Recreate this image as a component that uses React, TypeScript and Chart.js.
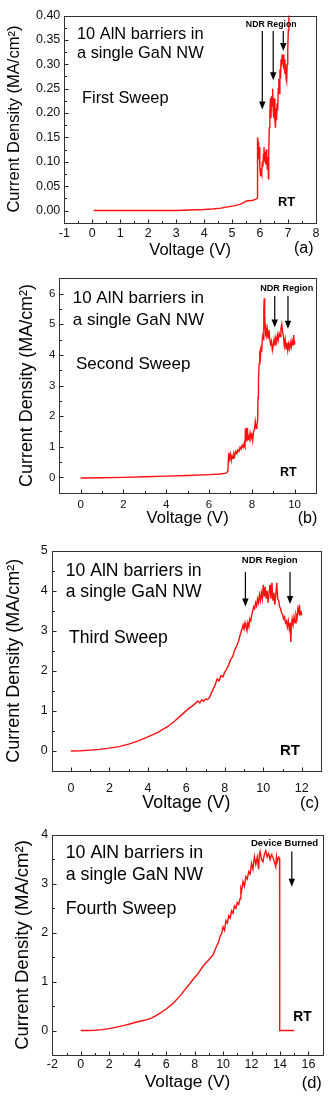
import React, { useEffect, useRef } from "react";
import { Chart, registerables } from "chart.js";

Chart.register(...registerables);

const FONT = "'Liberation Sans', Arial, Helvetica, sans-serif";
Chart.defaults.font.family = FONT;

// ---------- DATA ----------
// (a) First sweep
const firstVoltage = [
  0.05, 0.5, 1, 1.5, 2, 2.5, 3, 3.5, 4, 4.3,
  4.6, 4.9, 5.1, 5.3, 5.42, 5.48, 5.6, 5.75, 5.88, 5.9,
  5.91, 5.93, 5.95, 5.97, 5.99, 6.02, 6.04, 6.06, 6.08, 6.1,
  6.12, 6.14, 6.16, 6.18, 6.2, 6.22, 6.24, 6.26, 6.28, 6.3,
  6.31, 6.33, 6.35, 6.37, 6.39, 6.41, 6.43, 6.45, 6.47, 6.49,
  6.51, 6.53, 6.55, 6.57, 6.59, 6.61, 6.63, 6.65, 6.67, 6.69,
  6.71, 6.73, 6.75, 6.77, 6.79, 6.81, 6.83, 6.85, 6.87, 6.89,
  6.91, 6.93, 6.95, 6.97, 6.99, 7.01, 7.03,
];
const firstCurrent = [
  0, 0, 0, 0, 0, 0, 0, 0.001, 0.002, 0.003,
  0.005, 0.008, 0.01, 0.013, 0.016, 0.019, 0.02, 0.021, 0.024, 0.026,
  0.15, 0.14, 0.105, 0.13, 0.09, 0.07, 0.08, 0.075, 0.1, 0.09,
  0.115, 0.13, 0.1, 0.12, 0.095, 0.125, 0.1, 0.085, 0.11, 0.065,
  0.12, 0.17, 0.2, 0.23, 0.19, 0.235, 0.215, 0.25, 0.205, 0.19,
  0.23, 0.185, 0.17, 0.21, 0.185, 0.22, 0.205, 0.25, 0.27, 0.24,
  0.29, 0.27, 0.31, 0.295, 0.32, 0.3, 0.32, 0.29, 0.31, 0.28,
  0.3, 0.27, 0.265, 0.3, 0.33, 0.37, 0.42,
];
const firstXTicks = [-1, 0, 1, 2, 3, 4, 5, 6, 7, 8];
const firstYTicks = [0, 0.05, 0.1, 0.15, 0.2, 0.25, 0.3, 0.35, 0.4];

// (b) Second sweep
const secondVoltage = [
  0, 1, 2, 3, 4, 5, 6, 6.5, 6.8, 6.88,
  6.92, 6.96, 7.0, 7.04, 7.08, 7.12, 7.16, 7.2, 7.25, 7.3,
  7.35, 7.4, 7.45, 7.5, 7.55, 7.6, 7.64, 7.68, 7.7, 7.72,
  7.75, 7.78, 7.8, 7.84, 7.88, 7.92, 7.96, 8.0, 8.04, 8.08,
  8.12, 8.16, 8.2, 8.24, 8.27, 8.29, 8.31, 8.34, 8.37, 8.4,
  8.43, 8.46, 8.5, 8.53, 8.56, 8.58, 8.6, 8.62, 8.64, 8.66,
  8.68, 8.72, 8.76, 8.8, 8.84, 8.88, 8.92, 8.96, 9.0, 9.04,
  9.08, 9.12, 9.16, 9.2, 9.24, 9.28, 9.32, 9.36, 9.4, 9.44,
  9.48, 9.52, 9.56, 9.6, 9.64, 9.68, 9.72, 9.76, 9.8, 9.84,
  9.88, 9.92, 9.96, 9.98, 10.0,
];
const secondCurrent = [
  -0.02, -0.01, 0, 0.02, 0.04, 0.06, 0.09, 0.11, 0.14, 0.2,
  0.8, 0.6, 0.75, 0.55, 0.7, 0.62, 0.78, 0.7, 0.85, 0.78,
  0.9, 0.85, 0.98, 0.92, 1.05, 0.98, 1.1, 1.0, 1.6, 1.15,
  1.3, 1.62, 1.2, 1.35, 1.25, 1.45, 1.28, 1.38, 1.2, 1.5,
  1.55, 1.82, 1.6, 1.72, 1.85, 2.6, 3.2, 3.7, 4.0, 3.9,
  4.3, 4.1, 4.6, 4.5, 5.5, 5.85, 5.3, 5.0, 4.6, 4.9,
  4.65, 4.85, 4.55, 4.82, 4.5, 4.35, 4.45, 4.15, 4.3, 4.5,
  4.3, 4.55, 4.4, 4.65, 4.5, 4.7, 4.6, 4.85, 5.0, 4.75,
  4.6, 4.3, 4.5, 4.2, 4.4, 4.15, 4.35, 4.2, 4.4, 4.25,
  4.45, 4.3, 4.65, 4.35, 4.45,
];
const secondXTicks = [0, 2, 4, 6, 8, 10];
const secondYTicks = [0, 1, 2, 3, 4, 5, 6];

// (c) Third sweep
const thirdVoltage = [
  0, 0.5, 1, 1.5, 2, 2.5, 3, 3.5, 4, 4.5,
  5, 5.4, 5.8, 6.1, 6.3, 6.5, 6.6, 6.7, 6.8, 6.9,
  7.0, 7.1, 7.2, 7.3, 7.4, 7.5, 7.6, 7.7, 7.8, 7.9,
  8.0, 8.1, 8.2, 8.3, 8.4, 8.5, 8.6, 8.7, 8.8, 8.9,
  8.95, 9.0, 9.05, 9.1, 9.15, 9.2, 9.25, 9.3, 9.35, 9.4,
  9.45, 9.5, 9.55, 9.6, 9.65, 9.7, 9.75, 9.8, 9.85, 9.9,
  9.95, 10.0, 10.05, 10.1, 10.15, 10.2, 10.25, 10.3, 10.35, 10.4,
  10.45, 10.5, 10.55, 10.6, 10.65, 10.7, 10.75, 10.8, 10.85, 10.9,
  10.95, 11.0, 11.05, 11.1, 11.15, 11.2, 11.25, 11.3, 11.35, 11.4,
  11.43, 11.46, 11.5, 11.55, 11.6, 11.65, 11.7, 11.75, 11.8, 11.85,
  11.88, 11.92, 11.96, 12.0,
];
const thirdCurrent = [
  0, 0.005, 0.02, 0.04, 0.07, 0.11, 0.17, 0.25, 0.35, 0.46,
  0.6, 0.75, 0.92, 1.05, 1.12, 1.2, 1.25, 1.2, 1.28, 1.24,
  1.3, 1.28, 1.33, 1.45, 1.55, 1.65, 1.8, 1.75, 1.88, 1.85,
  1.97, 2.05, 2.15, 2.28, 2.35, 2.5, 2.6, 2.72, 2.9, 3.05,
  3.15, 3.05, 3.2, 3.1, 3.0, 3.2, 3.1, 3.3, 3.25, 3.4,
  3.5, 3.6, 3.55, 3.7, 3.62, 3.8, 3.7, 3.9, 3.75, 3.95,
  3.8, 4.15, 3.85, 4.1, 3.8, 4.0, 3.7, 3.95, 4.15, 3.8,
  4.2, 3.75, 3.95, 3.65, 3.9, 4.2, 3.8, 3.75, 3.6, 3.55,
  3.45, 3.4, 3.3, 3.35, 3.2, 3.25, 3.1, 3.25, 3.05, 3.2,
  2.72, 3.1, 3.3, 3.15, 3.35, 3.2, 3.4, 3.3, 3.55, 3.45,
  3.65, 3.4, 3.5, 3.4,
];
const thirdXTicks = [0, 2, 4, 6, 8, 10, 12];
const thirdYTicks = [0, 1, 2, 3, 4, 5];

// (d) Fourth sweep
const fourthVoltage = [
  0, 0.5, 1, 1.5, 2, 2.5, 3, 3.5, 4, 4.5,
  5, 5.5, 6, 6.5, 7, 7.5, 7.9, 8.2, 8.6, 9.0,
  9.3, 9.5, 9.6, 9.7, 9.8, 9.9, 10.0, 10.1, 10.2, 10.3,
  10.4, 10.5, 10.6, 10.7, 10.8, 10.9, 11.0, 11.1, 11.2, 11.25,
  11.3, 11.4, 11.5, 11.6, 11.7, 11.8, 11.9, 12.0, 12.1, 12.2,
  12.3, 12.4, 12.5, 12.55, 12.6, 12.7, 12.8, 12.9, 13.0, 13.1,
  13.2, 13.3, 13.4, 13.5, 13.6, 13.7, 13.75, 13.8, 13.9, 13.97,
  13.98, 15.0,
];
const fourthCurrent = [
  0, 0, 0.005, 0.02, 0.04, 0.07, 0.1, 0.14, 0.18, 0.21,
  0.26, 0.34, 0.44, 0.56, 0.72, 0.9, 1.05, 1.15, 1.32, 1.45,
  1.55, 1.7, 1.76, 1.82, 1.94, 1.98, 2.12, 2.05, 2.25, 2.2,
  2.35, 2.3, 2.45, 2.4, 2.55, 2.5, 2.62, 2.58, 2.7, 2.9,
  2.85, 3.05, 2.95, 3.15, 3.1, 3.25, 3.2, 3.42, 3.3, 3.56,
  3.4, 3.55, 3.3, 3.6, 3.66, 3.5, 3.45, 3.6, 3.68, 3.55,
  3.62, 3.5, 3.6, 3.55, 3.45, 3.35, 3.55, 3.45, 3.55, 3.52,
  0, 0,
];
const fourthXTicks = [-2, 0, 2, 4, 6, 8, 10, 12, 14, 16];
const fourthYTicks = [0, 1, 2, 3, 4];

// ---------- PANEL LAYOUT ----------
type Txt = { t: string; x: number; y: number; size: number; bold?: boolean; align?: CanvasTextAlign };
type Arrow = { v: number; from: number; to: number };
type Panel = {
  top: number; bottom: number;
  plotLeft: number; plotRight: number; plotTop: number; plotBottom: number;
  xMin: number; xMax: number; yMin: number; yMax: number;
  xTicks: number[]; yTicks: number[]; xMinor: number; yMinor: number;
  yDecimals: number;
  volts: number[]; current: number[];
  tickSize: number; xTickPad: number;
  yTitleX: number; yTitleSize: number; xTitleY: number; xTitleSize: number;
  texts: Txt[]; arrows: Arrow[];
};

const panels: Panel[] = [
  {
    top: 0, bottom: 262,
    plotLeft: 64.3, plotRight: 316, plotTop: 15.5, plotBottom: 222.7,
    xMin: -1, xMax: 8, yMin: -0.025, yMax: 0.4,
    xTicks: firstXTicks, yTicks: firstYTicks, xMinor: 0.5, yMinor: 0.025, yDecimals: 2,
    volts: firstVoltage, current: firstCurrent,
    tickSize: 12.5, xTickPad: 3,
    yTitleX: 14, yTitleSize: 16.5, xTitleY: 250, xTitleSize: 16.5,
    texts: [
      { t: "10 AlN barriers in", x: 77, y: 34, size: 16.4 },
      { t: "a single GaN NW", x: 77, y: 53.3, size: 16.4 },
      { t: "First Sweep", x: 82, y: 98, size: 16.4 },
      { t: "NDR Region", x: 271.2, y: 25, size: 8.7, bold: true, align: "center" },
      { t: "RT", x: 278, y: 202.3, size: 12.8, bold: true },
      { t: "(a)", x: 294, y: 248.3, size: 16 },
    ],
    arrows: [
      { v: 6.08, from: 0.368, to: 0.207 },
      { v: 6.47, from: 0.368, to: 0.267 },
      { v: 6.83, from: 0.368, to: 0.327 },
    ],
  },
  {
    top: 262, bottom: 532,
    plotLeft: 59.3, plotRight: 316, plotTop: 278.3, plotBottom: 492.7,
    xMin: -1, xMax: 11, yMin: -0.5, yMax: 6.5,
    xTicks: secondXTicks, yTicks: secondYTicks, xMinor: 1, yMinor: 0.5, yDecimals: 0,
    volts: secondVoltage, current: secondCurrent,
    tickSize: 11.5, xTickPad: 5,
    yTitleX: 27, yTitleSize: 17.9, xTitleY: 518.3, xTitleSize: 16.6,
    texts: [
      { t: "10 AlN barriers in", x: 72.7, y: 298.3, size: 17 },
      { t: "a single GaN NW", x: 72.7, y: 320, size: 17 },
      { t: "Second Sweep", x: 76, y: 364.3, size: 17 },
      { t: "NDR Region", x: 286.7, y: 288.3, size: 9.1, bold: true, align: "center" },
      { t: "RT", x: 280, y: 472.7, size: 12.5, bold: true },
      { t: "(b)", x: 297.7, y: 518.3, size: 16 },
    ],
    arrows: [
      { v: 9.07, from: 5.92, to: 4.89 },
      { v: 9.69, from: 5.92, to: 4.85 },
    ],
  },
  {
    top: 532, bottom: 816,
    plotLeft: 51.7, plotRight: 321, plotTop: 550.7, plotBottom: 771,
    xMin: -1, xMax: 13, yMin: -0.5, yMax: 5,
    xTicks: thirdXTicks, yTicks: thirdYTicks, xMinor: 1, yMinor: 0.5, yDecimals: 0,
    volts: thirdVoltage, current: thirdCurrent,
    tickSize: 12.5, xTickPad: 10.5,
    yTitleX: 14, yTitleSize: 18, xTitleY: 803.3, xTitleSize: 17.8,
    texts: [
      { t: "10 AlN barriers in", x: 65.7, y: 570.7, size: 17.6 },
      { t: "a single GaN NW", x: 65.7, y: 592.3, size: 17.6 },
      { t: "Third Sweep", x: 69, y: 638.3, size: 17.6 },
      { t: "NDR Region", x: 269.7, y: 560.7, size: 9.6, bold: true, align: "center" },
      { t: "RT", x: 280, y: 750.7, size: 15, bold: true },
      { t: "(c)", x: 300, y: 803.3, size: 16.5 },
    ],
    arrows: [
      { v: 9.07, from: 4.47, to: 3.61 },
      { v: 11.39, from: 4.47, to: 3.67 },
    ],
  },
  {
    top: 816, bottom: 1100,
    plotLeft: 52.3, plotRight: 322.7, plotTop: 835, plotBottom: 1055,
    xMin: -2, xMax: 17, yMin: -0.5, yMax: 4,
    xTicks: fourthXTicks, yTicks: fourthYTicks, xMinor: 1, yMinor: 0.5, yDecimals: 0,
    volts: fourthVoltage, current: fourthCurrent,
    tickSize: 12.5, xTickPad: 2,
    yTitleX: 23.3, yTitleSize: 18.5, xTitleY: 1082, xTitleSize: 17.3,
    texts: [
      { t: "10 AlN barriers in", x: 65.7, y: 853.3, size: 17.8 },
      { t: "a single GaN NW", x: 65.7, y: 875, size: 17.8 },
      { t: "Fourth Sweep", x: 65.7, y: 909.3, size: 17.8 },
      { t: "Device Burned", x: 284.5, y: 843.3, size: 9.6, bold: true, align: "center" },
      { t: "RT", x: 293.3, y: 1016.7, size: 13.8, bold: true },
      { t: "(d)", x: 301.7, y: 1083.3, size: 16.5 },
    ],
    arrows: [{ v: 14.83, from: 3.66, to: 2.94 }],
  },
];

function minorValues(min: number, max: number, step: number, majors: number[]) {
  const out: number[] = [];
  const n = Math.round((max - min) / step);
  for (let i = 0; i <= n; i++) {
    const v = min + i * step;
    if (!majors.some((m) => Math.abs(m - v) < step / 100)) out.push(v);
  }
  return out;
}

function PanelChart({ p }: { p: Panel }) {
  const ref = useRef<HTMLCanvasElement>(null);
  const h = p.bottom - p.top;

  useEffect(() => {
    if (!ref.current) return;
    const overlay = {
      id: "overlay",
      afterDraw(chart: any) {
        const { ctx, chartArea: ca } = chart;
        const xs = chart.scales.x;
        const ys = chart.scales.y;
        ctx.save();
        ctx.strokeStyle = "#222";
        ctx.lineWidth = 1;
        const bottom = Math.round(ca.bottom) + 0.5;
        const left = Math.round(ca.left) + 0.5;
        const drawX = (vals: number[], len: number) => {
          vals.forEach((v) => {
            const px = Math.round(xs.getPixelForValue(v)) + 0.5;
            ctx.beginPath();
            ctx.moveTo(px, bottom);
            ctx.lineTo(px, bottom - len);
            ctx.stroke();
          });
        };
        const drawY = (vals: number[], len: number) => {
          vals.forEach((v) => {
            const py = Math.round(ys.getPixelForValue(v)) + 0.5;
            ctx.beginPath();
            ctx.moveTo(left, py);
            ctx.lineTo(left + len, py);
            ctx.stroke();
          });
        };
        drawX(p.xTicks, 4);
        drawX(minorValues(p.xMin, p.xMax, p.xMinor, p.xTicks), 2.5);
        drawY(p.yTicks, 4);
        drawY(minorValues(p.yMin, p.yMax, p.yMinor, p.yTicks), 2.5);
        ctx.strokeStyle = "#333";
        ctx.strokeRect(left, Math.round(ca.top) + 0.5, Math.round(ca.right) - Math.round(ca.left), Math.round(ca.bottom) - Math.round(ca.top));
        ctx.strokeStyle = "#000";
        ctx.fillStyle = "#000";
        ctx.lineWidth = 1.2;
        p.arrows.forEach((a) => {
          const px = xs.getPixelForValue(a.v);
          const y1 = ys.getPixelForValue(a.from);
          const y2 = ys.getPixelForValue(a.to);
          ctx.beginPath();
          ctx.moveTo(px, y1);
          ctx.lineTo(px, y2 - 6);
          ctx.stroke();
          ctx.beginPath();
          ctx.moveTo(px - 3.2, y2 - 8);
          ctx.lineTo(px + 3.2, y2 - 8);
          ctx.lineTo(px, y2);
          ctx.closePath();
          ctx.fill();
        });
        ctx.textBaseline = "middle";
        p.texts.forEach((t) => {
          ctx.font = `${t.bold ? "bold " : ""}${t.size}px ${FONT}`;
          ctx.textAlign = t.align || "left";
          ctx.fillText(t.t, t.x, t.y - p.top);
        });
        ctx.restore();
      },
    };

    const chart = new Chart(ref.current, {
      type: "line",
      data: {
        datasets: [
          {
            data: p.volts.map((v, i) => ({ x: v, y: p.current[i] })),
            borderColor: "#ff1010",
            borderWidth: 1.4,
            pointRadius: 0,
            tension: 0,
            fill: false,
          },
        ],
      },
      options: {
        animation: false,
        responsive: false,
        maintainAspectRatio: false,
        devicePixelRatio: 1,
        events: [],
        layout: {
          padding: { left: 0, right: 336 - p.plotRight, top: p.plotTop - p.top, bottom: 0 },
        },
        plugins: { legend: { display: false }, tooltip: { enabled: false } },
        scales: {
          x: {
            type: "linear",
            min: p.xMin,
            max: p.xMax,
            afterBuildTicks: (s: any) => {
              s.ticks = p.xTicks.map((v) => ({ value: v }));
            },
            afterFit: (s: any) => {
              s.height = p.bottom - p.plotBottom;
            },
            grid: { display: false, drawTicks: false },
            border: { display: false },
            ticks: {
              autoSkip: false,
              maxRotation: 0,
              minRotation: 0,
              padding: p.xTickPad,
              color: "#111",
              font: { size: p.tickSize, family: FONT },
              callback: (v: any) => String(v),
            },
            title: {
              display: true,
              text: "Voltage (V)",
              color: "#000",
              font: { size: p.xTitleSize, family: FONT, lineHeight: 1 },
              padding: { top: 0, bottom: p.bottom - p.xTitleY - p.xTitleSize / 2 },
            },
          },
          y: {
            type: "linear",
            min: p.yMin,
            max: p.yMax,
            afterBuildTicks: (s: any) => {
              s.ticks = p.yTicks.map((v) => ({ value: v }));
            },
            afterFit: (s: any) => {
              s.width = p.plotLeft;
            },
            grid: { display: false, drawTicks: false },
            border: { display: false },
            ticks: {
              autoSkip: false,
              padding: 4,
              color: "#111",
              font: { size: p.tickSize, family: FONT },
              callback: (v: any) => Number(v).toFixed(p.yDecimals),
            },
            title: {
              display: true,
              text: "Current Density (MA/cm²)",
              color: "#000",
              font: { size: p.yTitleSize, family: FONT, lineHeight: 1 },
              padding: { top: p.yTitleX - p.yTitleSize / 2, bottom: 0 },
            },
          },
        },
      } as any,
      plugins: [overlay],
    });
    return () => chart.destroy();
  }, []);

  return (
    <div style={{ position: "absolute", left: 0, top: p.top, width: 336, height: h }}>
      <canvas ref={ref} width={336} height={h} style={{ display: "block", width: 336, height: h }} />
    </div>
  );
}

export default function App() {
  return (
    <div style={{ position: "absolute", left: 0, top: 0, width: 336, height: 1109, background: "#fff" }}>
      {panels.map((p, i) => (
        <PanelChart key={i} p={p} />
      ))}
    </div>
  );
}
